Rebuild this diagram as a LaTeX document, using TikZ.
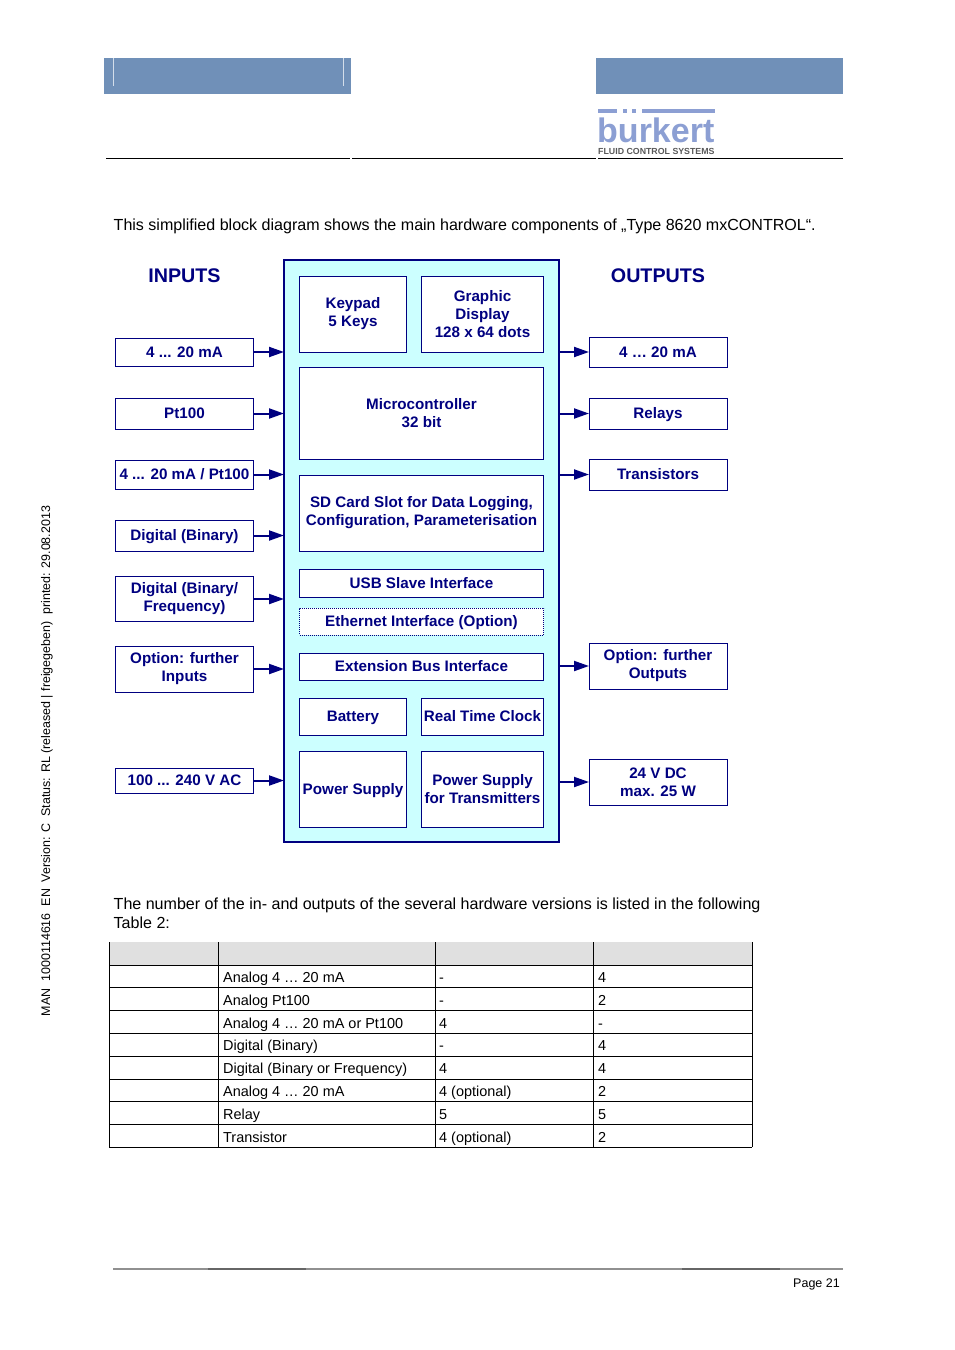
\documentclass[tikz,border=0pt]{standalone}
\usepackage{fontspec}
\setmainfont{Liberation Sans}
\usetikzlibrary{arrows.meta,positioning,calc}
\definecolor{BuNavy}{HTML}{000080}
\definecolor{BuCyan}{HTML}{CCFFFF}
\definecolor{BuBand}{HTML}{7090B8}
\definecolor{BuLogo}{HTML}{8C9FD3}
\definecolor{BuHead}{HTML}{E0E0E0}
\definecolor{BuRule}{HTML}{909090}

\begin{document}
\begin{tikzpicture}[
    x=1pt,
    y=-1pt,
    blk/.style={
      draw=BuNavy,
      fill=white,
      line width=1pt,
      inner sep=0pt,
      outer sep=0pt,
      align=center,
      text=BuNavy,
      font=\fontsize{15.2}{18}\selectfont\bfseries
    },
    oneline/.style={
      text height=12pt,
      text depth=2pt
    },
    core/.style={
      draw=BuNavy,
      fill=BuCyan,
      line width=2pt,
      inner sep=0pt,
      outer sep=0pt
    },
    arr/.style={
      -{Triangle[length=15pt,width=10pt]},
      line width=2pt,
      color=BuNavy
    },
    head/.style={
      text=BuNavy,
      font=\fontsize{19.7}{24}\selectfont\bfseries
    },
    para/.style={
      anchor=west,
      align=left,
      inner sep=0pt,
      font=\fontsize{16.05}{19}\selectfont
    },
    cell/.style={
      anchor=base west,
      inner sep=0pt,
      font=\fontsize{14.45}{17}\selectfont
    },
    band/.style={
      fill=BuBand,
      draw=none
    },
    logobar/.style={
      fill=BuLogo,
      draw=none
    }
  ]
  \useasboundingbox (0,0) rectangle (954,1350);

  % Page header
  \fill[band] (104,58) rectangle (351,94);
  \fill[band] (596,58) rectangle (843,94);
  \draw[white!70!BuBand,line width=0.5pt] (113,58) -- (113,86);
  \draw[white!70!BuBand,line width=0.5pt] (343,58) -- (343,86);
  \draw[line width=1pt] (106,158) -- (350,158);
  \draw[line width=1pt] (352,158) -- (596,158);
  \draw[line width=1pt] (598,158) -- (843,158);

  % Logo
  \fill[logobar] (598,109) rectangle (617,113);
  \fill[logobar] (623,109) rectangle (627,113);
  \fill[logobar] (632,109) rectangle (636,113);
  \fill[logobar] (642,109) rectangle (715,113);
  \node[inner sep=0pt,anchor=base west,text=BuLogo,
    font=\fontsize{34}{34}\selectfont\bfseries] (logo) at (597,142) {burkert};
  \node[inner sep=0pt,anchor=base west,text=black!65,
    font=\fontsize{8.8}{9}\selectfont\bfseries] (claim) at (598,154) {FLUID CONTROL SYSTEMS};

  % Side text
  \node[rotate=90,inner sep=0pt,font=\fontsize{12.47}{14}\selectfont] (side) at (47,761)
    {MAN\ \ 1000114616\ \ EN\ \ Version: C\ \ Status: RL (released | freigegeben)\ \ printed: 29.08.2013};

  % Intro
  \node[para] (intro) at (113.5,226.5) {This simplified block diagram shows the main hardware components of „Type 8620 mxCONTROL“.};

  % Unit
  \node[core,minimum width=275,minimum height=582] (unit) at (421.5,551) {};

  % Headings
  \node[head] (inhead) at (184.5,276) {INPUTS};
  \node[head] (outhead) at (658,276) {OUTPUTS};

  % Blocks in the unit
  \node[blk,minimum width=107,minimum height=76] (keypad) at (353,314) {Keypad\\5 Keys};
  \node[blk,minimum width=122.5,minimum height=76] (display) at (482.5,314) {Graphic\\Display\\128 x 64 dots};
  \node[blk,minimum width=244,minimum height=92] (micro) at (421.5,413) {Microcontroller\\32 bit};
  \node[blk,minimum width=244,minimum height=76] (sdcard) at (421.5,513) {SD Card Slot for Data Logging,\\Configuration, Parameterisation};
  \node[blk,oneline,minimum width=244,minimum height=28] (usb) at (421.5,583) {USB Slave Interface};
  \node[blk,oneline,densely dotted,minimum width=244,minimum height=27] (ether) at (421.5,621.5) {Ethernet Interface (Option)};
  \node[blk,oneline,minimum width=244,minimum height=27] (extbus) at (421.5,666.5) {Extension Bus Interface};
  \node[blk,oneline,minimum width=107,minimum height=37] (battery) at (353,716.5) {Battery};
  \node[blk,oneline,minimum width=122.5,minimum height=37] (clock) at (482.5,716.5) {Real Time Clock};
  \node[blk,oneline,minimum width=107,minimum height=76] (power) at (353,789) {Power Supply};
  \node[blk,minimum width=122.5,minimum height=76] (powertr) at (482.5,789) {Power Supply\\for Transmitters};

  % Inputs
  \node[blk,oneline,minimum width=138,minimum height=28] (i0) at (184.5,352) {4 ... 20 mA};
  \node[blk,oneline,minimum width=138,minimum height=31] (i1) at (184.5,413.5) {Pt100};
  \node[blk,oneline,minimum width=138,minimum height=29] (i2) at (184.5,474.5) {4 ... 20 mA / Pt100};
  \node[blk,oneline,minimum width=138,minimum height=31] (i3) at (184.5,535.5) {Digital (Binary)};
  \node[blk,minimum width=138,minimum height=45] (i4) at (184.5,599) {Digital (Binary/\\Frequency)};
  \node[blk,minimum width=138,minimum height=46] (i5) at (184.5,669) {Option: further\\Inputs};
  \node[blk,oneline,minimum width=138,minimum height=25] (i6) at (184.5,780.5) {100 ... 240 V AC};

  % Outputs
  \node[blk,oneline,minimum width=138,minimum height=30] (o0) at (658,352) {4 … 20 mA};
  \node[blk,oneline,minimum width=138,minimum height=31] (o1) at (658,413.5) {Relays};
  \node[blk,oneline,minimum width=138,minimum height=31] (o2) at (658,474.5) {Transistors};
  \node[blk,minimum width=138,minimum height=46] (o3) at (658,666) {Option: further\\Outputs};
  \node[blk,minimum width=138,minimum height=46] (o4) at (658,782) {24 V DC\\max. 25 W};

  % Connectors
  \draw[arr] (i0.east) -- (i0.east -| unit.west);
  \draw[arr] (i1.east) -- (i1.east -| unit.west);
  \draw[arr] (i2.east) -- (i2.east -| unit.west);
  \draw[arr] (i3.east) -- (i3.east -| unit.west);
  \draw[arr] (i4.east) -- (i4.east -| unit.west);
  \draw[arr] (i5.east) -- (i5.east -| unit.west);
  \draw[arr] (i6.east) -- (i6.east -| unit.west);

  \draw[arr] (o0.west -| unit.east) -- (o0.west);
  \draw[arr] (o1.west -| unit.east) -- (o1.west);
  \draw[arr] (o2.west -| unit.east) -- (o2.west);
  \draw[arr] (o3.west -| unit.east) -- (o3.west);
  \draw[arr] (o4.west -| unit.east) -- (o4.west);

  % Text above the table
  \node[para] (lead) at (113.5,913) {The number of the in- and outputs of the several hardware versions is listed in the following\\Table 2:};

  % Table
  \fill[BuHead] (109,942) rectangle (752,965);
  \foreach \rowy in {965,987.8,1010.6,1033.4,1056.2,1079,1101.6,1124.4,1147.2}
    \draw[line width=0.8pt] (109,\rowy) -- (752,\rowy);
  \foreach \colx in {109,218,435,593,752}
    \draw[line width=0.8pt] (\colx,942) -- (\colx,1147.2);

  \node[cell] (a0) at (223,982) {Analog 4 … 20 mA};
  \node[cell] (b0) at (439,982) {-};
  \node[cell] (c0) at (598,982) {4};
  \node[cell] (a1) at (223,1005) {Analog Pt100};
  \node[cell] (b1) at (439,1005) {-};
  \node[cell] (c1) at (598,1005) {2};
  \node[cell] (a2) at (223,1028) {Analog 4 … 20 mA or Pt100};
  \node[cell] (b2) at (439,1028) {4};
  \node[cell] (c2) at (598,1028) {-};
  \node[cell] (a3) at (223,1050) {Digital (Binary)};
  \node[cell] (b3) at (439,1050) {-};
  \node[cell] (c3) at (598,1050) {4};
  \node[cell] (a4) at (223,1073) {Digital (Binary or Frequency)};
  \node[cell] (b4) at (439,1073) {4};
  \node[cell] (c4) at (598,1073) {4};
  \node[cell] (a5) at (223,1096) {Analog 4 … 20 mA};
  \node[cell] (b5) at (439,1096) {4 (optional)};
  \node[cell] (c5) at (598,1096) {2};
  \node[cell] (a6) at (223,1119) {Relay};
  \node[cell] (b6) at (439,1119) {5};
  \node[cell] (c6) at (598,1119) {5};
  \node[cell] (a7) at (223,1142) {Transistor};
  \node[cell] (b7) at (439,1142) {4 (optional)};
  \node[cell] (c7) at (598,1142) {2};

  % Page footer
  \draw[BuRule,line width=1.2pt] (113,1269) -- (843,1269);
  \draw[black!60,line width=1.2pt] (208,1269) -- (306,1269);
  \draw[black!60,line width=1.2pt] (682,1269) -- (780,1269);
  \node[inner sep=0pt,anchor=east,font=\fontsize{12.5}{15}\selectfont] (page) at (840,1284.5) {Page 21};

\end{tikzpicture}
\end{document}
